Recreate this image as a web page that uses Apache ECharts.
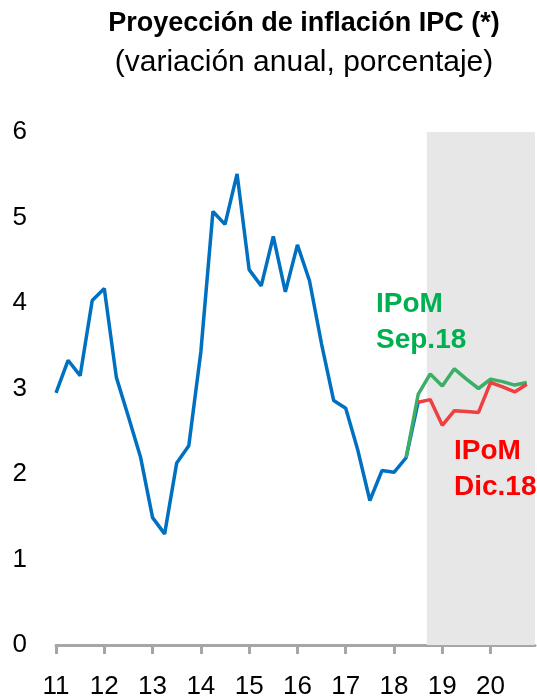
<!DOCTYPE html>
<html>
<head>
<meta charset="utf-8">
<script src="https://cdn.jsdelivr.net/npm/echarts@6/dist/echarts.min.js"></script>
<style>
  html, body { margin: 0; padding: 0; background: #fff; }
  #main { width: 537px; height: 700px; }
</style>
</head>
<body>
<div id="main"></div>
<script>
  // años del eje x (11 = 2011)
  var years = [11, 12, 13, 14, 15, 16, 17, 18, 19, 20];
  // IPC efectivo, trimestral: 2011T1 .. 2018T3
  var ipcEfectivo = [2.95, 3.33, 3.15, 4.03,  4.17, 3.13, 2.67, 2.20,  1.49, 1.30, 2.13, 2.33,
                     3.43, 5.07, 4.92, 5.51,  4.39, 4.20, 4.78, 4.13,  4.68, 4.26, 3.52, 2.86,
                     2.77, 2.28, 1.69, 2.04,  2.02, 2.19, 2.84];
  // IPoM Sep.18: 2018T2 .. 2020T4
  var ipomSep = [2.19, 2.93, 3.17, 3.03, 3.23, 3.11, 3.00, 3.11, 3.08, 3.04, 3.07];
  // IPoM Dic.18: 2018T3 .. 2020T4
  var ipomDic = [2.84, 2.87, 2.57, 2.74, 2.73, 2.72, 3.07, 3.02, 2.96, 3.05];
  var yTicks = [0, 1, 2, 3, 4, 5, 6];

  var ipcStart = 11, sepStart = 18.25, dicStart = 18.5;
  var xMax = 20.92;
  var zonaProyeccion = [18.68, xMax];

  // pasa una serie trimestral a pares [año, valor]
  function trimestral(start, vals) {
    return vals.map(function (v, i) { return [start + i * 0.25, v]; });
  }

  var myChart = echarts.init(document.getElementById('main'));
  myChart.setOption({
    animation: false,
    title: [
      {
        text: 'Proyección de inflación IPC (*)',
        left: 299, top: 5, textAlign: 'center',
        textStyle: { fontFamily: 'Liberation Sans', fontWeight: 'bold', fontSize: 27, color: '#000' }
      },
      {
        text: '(variación anual, porcentaje)',
        left: 299, top: 43, textAlign: 'center',
        textStyle: { fontFamily: 'Liberation Sans', fontWeight: 'normal', fontSize: 30, color: '#000' }
      }
    ],
    grid: { left: 56, right: 2, top: 132, bottom: 55 },
    xAxis: {
      type: 'value',
      min: 11, max: xMax, interval: 1,
      splitLine: { show: false },
      axisLine: { lineStyle: { color: '#A6A6A6', width: 3 } },
      axisTick: { customValues: years, length: 9, lineStyle: { color: '#A6A6A6', width: 3 } },
      axisLabel: {
        customValues: years,
        margin: 29,
        fontFamily: 'Liberation Sans', fontSize: 26, color: '#000',
        formatter: function (v) { return Number.isInteger(v) ? String(v) : ''; }
      }
    },
    yAxis: {
      type: 'value',
      min: yTicks[0], max: yTicks[yTicks.length - 1], interval: 1,
      splitLine: { show: false },
      axisLine: { show: false },
      axisTick: { show: false },
      axisLabel: { margin: 29, fontFamily: 'Liberation Sans', fontSize: 26, color: '#000' }
    },
    series: [
      {
        name: 'IPC',
        type: 'line',
        data: trimestral(ipcStart, ipcEfectivo),
        symbol: 'none',
        lineStyle: { color: '#0070C0', width: 3.5 },
        z: 2,
        markArea: {
          silent: true,
          itemStyle: { color: '#E7E7E7' },
          data: [[{ xAxis: zonaProyeccion[0] }, { xAxis: zonaProyeccion[1] }]]
        }
      },
      {
        name: 'IPoM Sep.18',
        type: 'line',
        data: trimestral(sepStart, ipomSep),
        symbol: 'none',
        lineStyle: { color: '#3DAE67', width: 3.5 },
        z: 3
      },
      {
        name: 'IPoM Dic.18',
        type: 'line',
        data: trimestral(dicStart, ipomDic),
        symbol: 'none',
        lineStyle: { color: '#EE4040', width: 3.5 },
        z: 4
      }
    ],
    graphic: [
      {
        type: 'text', left: 376, top: 286, z: 10,
        style: { text: 'IPoM\nSep.18', fill: '#00B050', font: 'bold 28px "Liberation Sans"', lineHeight: 36 }
      },
      {
        type: 'text', left: 454, top: 433, z: 10,
        style: { text: 'IPoM\nDic.18', fill: '#FF0000', font: 'bold 28px "Liberation Sans"', lineHeight: 36 }
      }
    ]
  });
</script>
</body>
</html>
